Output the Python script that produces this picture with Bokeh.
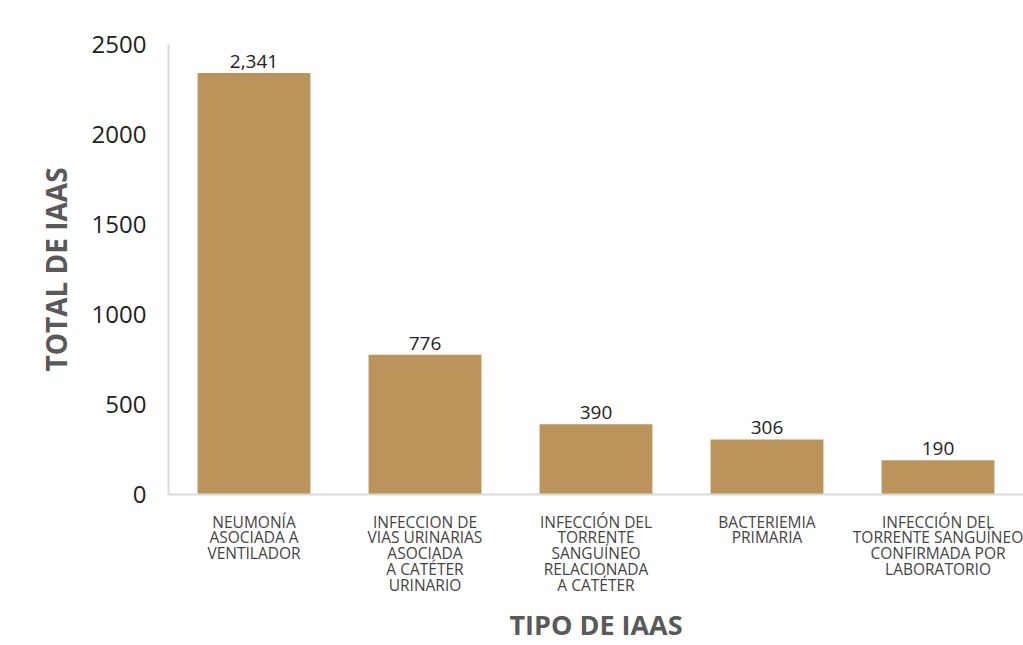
from bokeh.plotting import figure
from bokeh.models import ColumnDataSource, FactorRange, Range1d, SingleIntervalTicker
from bokeh.core.properties import value
from bokeh.embed import file_html
from bokeh.resources import INLINE

categories = [
    "NEUMONÍA\nASOCIADA A\nVENTILADOR",
    "INFECCION DE\nVIAS URINARIAS\nASOCIADA\nA CATÉTER\nURINARIO",
    "INFECCIÓN DEL\nTORRENTE\nSANGUÍNEO\nRELACIONADA\nA CATÉTER",
    "BACTERIEMIA\nPRIMARIA",
    "INFECCIÓN DEL\nTORRENTE SANGUÍNEO\nCONFIRMADA POR\nLABORATORIO",
]
totals = [2341, 776, 390, 306, 190]
value_labels = ["2,341", "776", "390", "306", "190"]

FONT = "Open Sans"
BAR = "#BB945C"

src = ColumnDataSource(dict(cat=categories, total=totals, lab=value_labels))

p = figure(
    x_range=FactorRange(*categories, range_padding=0),
    y_range=Range1d(0, 2500),
    width=1023, height=645,
    output_backend="svg", toolbar_location=None,
    min_border_left=168, min_border_right=0, min_border_top=44, min_border_bottom=148,
)
p.vbar(x="cat", top="total", width=0.66, source=src, fill_color=BAR, line_color=None)
p.text(x="cat", y="total", text="lab", source=src, text_align="center",
       text_baseline="bottom", y_offset=-5, text_font=value(FONT),
       text_font_size="19px", text_color="#222222")

p.grid.visible = False
p.outline_line_color = None
p.background_fill_color = "white"

p.yaxis.ticker = SingleIntervalTicker(interval=500)
p.yaxis.major_tick_line_color = None
p.yaxis.minor_tick_line_color = None
p.yaxis.axis_line_color = "#d9d9d9"
p.yaxis.axis_line_width = 2
p.yaxis.major_label_text_font = FONT
p.yaxis.major_label_text_font_size = "24px"
p.yaxis.major_label_text_color = "#222222"
p.yaxis.major_label_standoff = 16
p.yaxis.axis_label = "TOTAL DE IAAS"
p.yaxis.axis_label_text_font = FONT
p.yaxis.axis_label_text_font_style = "bold"
p.yaxis.axis_label_text_font_size = "28px"
p.yaxis.axis_label_text_color = "#595959"
p.yaxis.axis_label_standoff = 14

p.xaxis.major_tick_line_color = None
p.xaxis.minor_tick_line_color = None
p.xaxis.axis_line_color = "#d9d9d9"
p.xaxis.axis_line_width = 2
p.xaxis.major_label_text_font = FONT
p.xaxis.major_label_text_font_size = "15.5px"
p.xaxis.major_label_text_line_height = 0.72
p.xaxis.major_label_text_color = "#444444"
p.xaxis.major_label_standoff = 10
p.xaxis.axis_label = "TIPO DE IAAS"
p.xaxis.axis_label_text_font = FONT
p.xaxis.axis_label_text_font_style = "bold"
p.xaxis.axis_label_text_font_size = "27px"
p.xaxis.axis_label_text_color = "#595959"
p.xaxis.axis_label_standoff = 7

open("out.html", "w").write(file_html(p, INLINE))
